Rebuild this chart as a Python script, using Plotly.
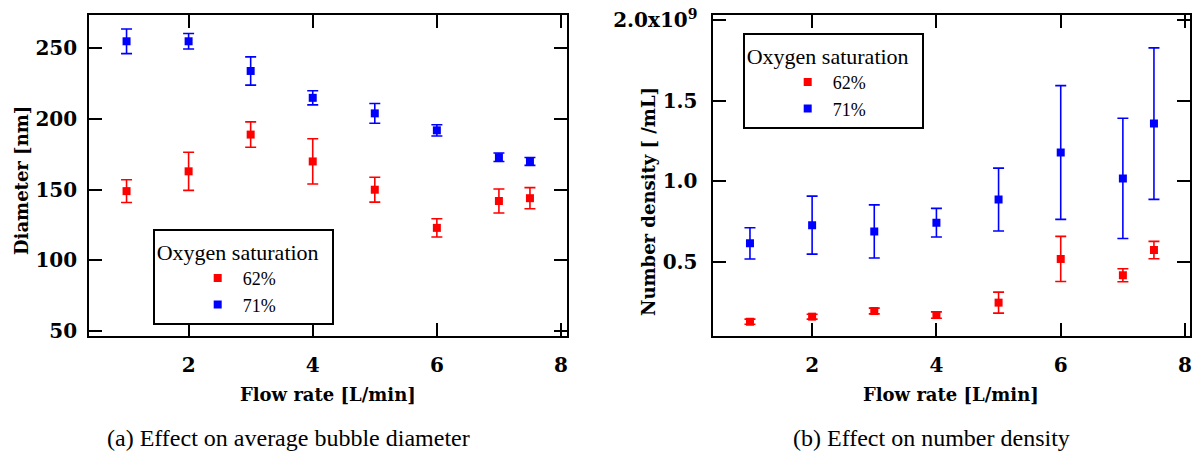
import plotly.graph_objects as go

flow = [1, 2, 3, 4, 5, 6, 7, 7.5]

# (a) average bubble diameter [nm]
diam_62 = [149, 163, 189, 170, 150, 123, 142, 144]
diam_62_err = [8, 13.5, 9, 16, 8.8, 6.5, 8.5, 7.5]
diam_71 = [255, 255, 234, 215, 204, 192, 173, 170]
diam_71_err = [8.7, 5.5, 10, 5, 7, 4, 3, 2.8]

# (b) number density [/mL] in units of 1e9
dens_62 = [0.130, 0.161, 0.196, 0.171, 0.248, 0.519, 0.418, 0.574]
dens_62_err = [0.016, 0.015, 0.018, 0.02, 0.065, 0.14, 0.04, 0.054]
dens_71 = [0.616, 0.729, 0.690, 0.744, 0.888, 1.180, 1.019, 1.359]
dens_71_err = [0.097, 0.18, 0.165, 0.089, 0.195, 0.415, 0.373, 0.47]

x_ticks = [2, 4, 6, 8]
a_yticks = [50, 100, 150, 200, 250]
b_yticks = [0.5, 1.0, 1.5, 2.0]
b_yticktext = ["0.5", "1.0", "1.5", "2.0x10<sup>9</sup>"]

RED = "#ff0000"
BLUE = "#0000ff"
FONT = "Liberation Serif"
BFONT = "DejaVu Serif"

fig = go.Figure()

def add(x, y, e, color, name, xa, ya, leg, show):
    fig.add_trace(go.Scatter(
        x=x, y=y, mode="markers", name=name, xaxis=xa, yaxis=ya,
        legend=leg, showlegend=show,
        marker=dict(symbol="square", size=8, color=color),
        error_y=dict(type="data", array=e, visible=True, color=color,
                     thickness=1.6, width=5.5),
    ))

add(flow, diam_62, diam_62_err, RED, "62%", "x", "y", "legend", True)
add(flow, diam_71, diam_71_err, BLUE, "71%", "x", "y", "legend", True)
add(flow, dens_62, dens_62_err, RED, "62%", "x2", "y2", "legend2", True)
add(flow, dens_71, dens_71_err, BLUE, "71%", "x2", "y2", "legend2", True)

axis_common = dict(
    showline=True, linecolor="black", linewidth=1.6, mirror="ticks",
    ticks="inside", ticklen=13, tickwidth=1.6, tickcolor="black",
    showgrid=False, zeroline=False, ticklabeloverflow="allow", automargin=False,
    tickfont=dict(family=BFONT, size=20, color="black", weight="bold"),
)

legend_common = dict(
    xanchor="left", yanchor="top",
    bordercolor="black", borderwidth=2, bgcolor="white",
    title=dict(text="Oxygen saturation\u00a0\u00a0", font=dict(family=FONT, size=22)),
    font=dict(family=FONT, size=18), indentation=38,
    itemwidth=40, tracegroupgap=0,
)

fig.update_layout(
    width=1192, height=455,
    margin=dict(l=0, r=0, t=0, b=0, autoexpand=False),
    paper_bgcolor="white", plot_bgcolor="white",
    font=dict(family=FONT, color="black"),
    xaxis=dict(domain=[89/1192, 567/1192], range=[0.395, 8.097],
               tickvals=x_ticks, ticklabelstandoff=10, **axis_common),
    yaxis=dict(domain=[1-336/455, 1-15/455], range=[46.5, 273.6],
               tickvals=a_yticks, ticklabelstandoff=6, **axis_common),
    xaxis2=dict(domain=[713.3/1192, 1190/1192], range=[0.41, 8.08],
                tickvals=x_ticks, ticklabelstandoff=10, anchor="y2", **axis_common),
    yaxis2=dict(domain=[1-336/455, 1-15/455], range=[0.041, 2.033],
                tickvals=b_yticks, ticktext=b_yticktext, ticklabelstandoff=10,
                anchor="x2", **axis_common),
    legend=dict(x=152.7/1192, y=1-229.3/455, **legend_common),
    legend2=dict(x=742.7/1192, y=1-33.3/455, **legend_common),
)

def ann(text, x, y, size, bold=False, angle=0):
    fig.add_annotation(text=text, x=x/1192, y=1-y/455, xref="paper", yref="paper",
                       showarrow=False, textangle=angle, xanchor="center", yanchor="middle",
                       font=dict(family=BFONT if bold else FONT, size=size, color="black",
                                 weight="bold" if bold else "normal"))

ann("Flow rate [L/min]", 328, 394, 18, bold=True)
ann("Flow rate [L/min]", 951, 394, 18, bold=True)
ann("Diameter [nm]", 22, 181, 18, bold=True, angle=-90)
ann("Number density [ /mL]", 648, 202, 18, bold=True, angle=-90)
ann("(a) Effect on average bubble diameter", 288, 438, 24)
ann("(b) Effect on number density", 931, 438, 24)

fig.write_html("out.html", config={"displayModeBar": False},
               post_script="document.body.style.margin='0';")
